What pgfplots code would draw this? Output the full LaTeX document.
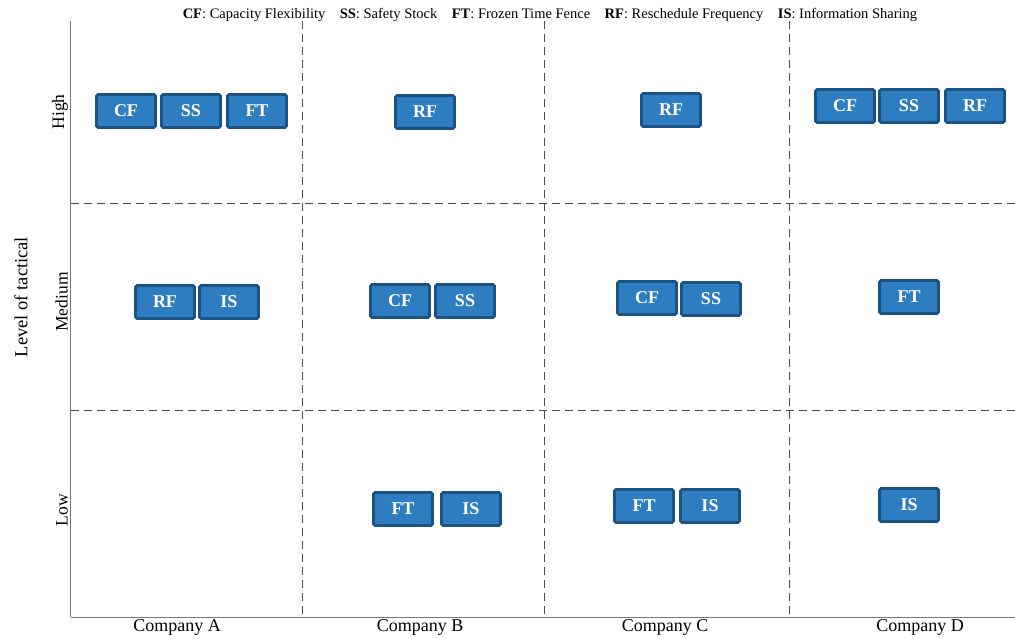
\documentclass[border=0pt]{standalone}
\usepackage{fontspec}
\setmainfont{Liberation Serif}
\usepackage{pgfplots}
\pgfplotsset{compat=1.18}

\definecolor{boxfill}{RGB}{46,125,192}
\definecolor{boxedge}{RGB}{28,82,130}
\definecolor{axisgray}{RGB}{120,120,120}

\pgfplotstableread{
x y label
126 111 CF
191 111 SS
257 111 FT
425 112 RF
671 110 RF
845 106 CF
909 106 SS
975 106 RF
165 302 RF
229 302 IS
400 301 CF
465 301 SS
647 298 CF
711 299 SS
909 297 FT
403 509 FT
471 509 IS
644 506 FT
710 506 IS
909 505 IS
}\boxdata

\begin{document}
\begin{tikzpicture}
\path[use as bounding box] (-71pt,-22pt) rectangle (944pt,617pt);
\begin{axis}[
    scale only axis,
    width=944pt,
    height=596pt,
    xmin=71, xmax=1015,
    ymin=21, ymax=617,
    y dir=reverse,
    axis x line*=bottom,
    axis y line*=left,
    axis line style={-, axisgray, line width=1pt},
    xtick={177,420,665,920},
    xticklabels={Company A, Company B, Company C, Company D},
    ytick={112,302,510},
    yticklabels={High, Medium, Low},
    tick style={draw=none},
    xticklabel style={font=\fontsize{18}{20}\selectfont, inner sep=2pt},
    yticklabel style={font=\fontsize{17.5}{20}\selectfont, rotate=90, anchor=south, inner sep=3pt},
    clip=false,
]
% grid dividers
\addplot[black!70, dashed, dash pattern=on 8pt off 5pt, line width=0.8pt] coordinates {(302,21) (302,617)};
\addplot[black!70, dashed, dash pattern=on 8pt off 5pt, line width=0.8pt] coordinates {(544,21) (544,617)};
\addplot[black!70, dashed, dash pattern=on 8pt off 5pt, line width=0.8pt] coordinates {(789,21) (789,617)};
\addplot[black!70, dashed, dash pattern=on 8pt off 5pt, line width=0.8pt] coordinates {(71,203) (1015,203)};
\addplot[black!70, dashed, dash pattern=on 8pt off 5pt, line width=0.8pt] coordinates {(71,410) (1015,410)};

% factor boxes
\addplot[
    draw=none, mark=none,
    nodes near coords,
    point meta=explicit symbolic,
    nodes near coords align=center,
    every node near coord/.append style={
        rectangle, draw=boxedge, line width=2.8pt, fill=boxfill,
        text=white, font=\bfseries\fontsize{18}{20}\selectfont,
        minimum width=59pt, minimum height=33pt, rounded corners=1.5pt,
        anchor=center, inner sep=0pt,
    },
] table[x=x, y=y, meta=label] {\boxdata};

\node[rotate=90, font=\fontsize{18.5}{21}\selectfont] at (axis cs:21,297) {Level of tactical};
\node[font=\fontsize{14.5}{16}\selectfont] at (axis cs:550,15)
  {\textbf{CF}: Capacity Flexibility\quad \textbf{SS}: Safety Stock\quad \textbf{FT}: Frozen Time Fence\quad \textbf{RF}: Reschedule Frequency\quad \textbf{IS}: Information Sharing};
\end{axis}
\end{tikzpicture}
\end{document}
